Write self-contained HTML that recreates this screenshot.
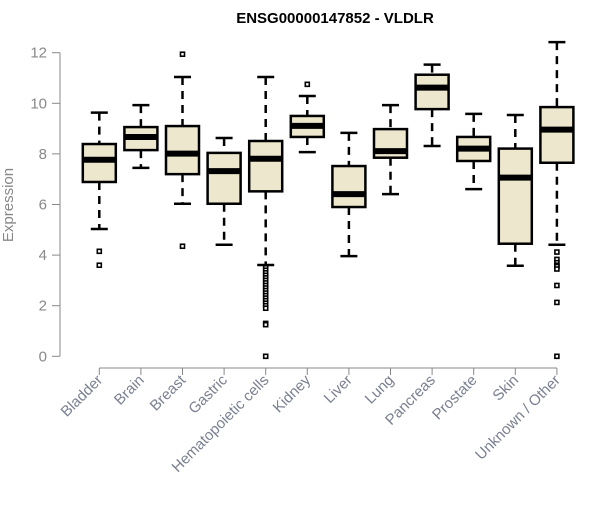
<!DOCTYPE html>
<html><head><meta charset="utf-8"><style>
body{margin:0;background:#fff;}
svg text{font-family:"Liberation Sans",Arial,sans-serif;}
</style></head><body>
<svg id="chart" width="600" height="500" xmlns="http://www.w3.org/2000/svg">
<text x="335" y="23" text-anchor="middle" font-size="15" font-weight="bold">ENSG00000147852 - VLDLR</text>
<text transform="translate(13,205) rotate(-90)" text-anchor="middle" font-size="15" fill="#888">Expression</text>
<g id="axes"></g><g id="boxes"></g>
</svg>
<script>
const categories=["Bladder","Brain","Breast","Gastric","Hematopoietic cells","Kidney","Liver","Lung","Pancreas","Prostate","Skin","Unknown / Other"];
const whiskerHigh=[9.63,9.93,11.04,8.63,11.04,10.29,8.83,9.93,11.53,9.58,9.54,12.42];
const q3=[8.39,9.06,9.1,8.04,8.51,9.5,7.52,8.98,11.13,8.67,8.21,9.85];
const medians=[7.77,8.67,8.01,7.32,7.81,9.11,6.41,8.11,10.62,8.21,7.06,8.96];
const q1=[6.89,8.15,7.2,6.03,6.52,8.67,5.9,7.85,9.77,7.72,4.45,7.65];
const whiskerLow=[5.03,7.45,6.03,4.41,3.61,8.07,3.96,6.41,8.31,6.61,3.58,4.41];
const outliers=[[4.15,3.6],[],[11.94,4.35],[],[3.5,3.4,3.3,3.2,3.1,3.0,2.9,2.8,2.7,2.6,2.5,2.4,2.3,2.2,2.1,2.0,1.9,1.3,1.25,0],[10.75],[],[],[],[],[],[4.12,3.83,3.7,3.6,3.55,3.45,2.8,2.13,0]];
const yTicks=[0,2,4,6,8,10,12];
const NS="http://www.w3.org/2000/svg";
const y=v=>356.3-v*25.3;
const x=i=>99.3+i*41.6;
function mk(tag,attrs,parent){const e=document.createElementNS(NS,tag);for(const k in attrs)e.setAttribute(k,attrs[k]);parent.appendChild(e);return e;}
const ax=document.getElementById('axes'),bx=document.getElementById('boxes');
let l=mk('line',{x1:60,x2:60,y1:y(12),y2:y(0),stroke:'#888'},ax);


yTicks.forEach(t=>{
 const tk=mk('line',{x1:52,x2:60,y1:y(t),y2:y(t),stroke:'#888'},ax);
 
 
 const tx=mk('text',{x:47,y:y(t)+5,'text-anchor':'end','font-size':15,fill:'#888'},ax);
 tx.textContent=t;
 
 
});
l=mk('line',{x1:x(0),x2:x(categories.length-1),y1:368,y2:368,stroke:'#888'},ax);


categories.forEach((c,i)=>{
 const cx=x(i);
 const tk=mk('line',{x1:cx,x2:cx,y1:368,y2:375,stroke:'#888'},ax);
 
 
 const tx=mk('text',{transform:`translate(${cx+4},${381}) rotate(-45)`,'text-anchor':'end','font-size':15,fill:'#7a8090'},ax);
 tx.textContent=c;
 
 
 const g=mk('g',{},bx);
 
 
 const hw=16.5,cw=8.5;
 mk('line',{x1:cx,x2:cx,y1:y(whiskerHigh[i]),y2:y(q3[i]),stroke:'#000','stroke-width':2.5,'stroke-dasharray':'8,6'},g);
 mk('line',{x1:cx,x2:cx,y1:y(q1[i]),y2:y(whiskerLow[i]),stroke:'#000','stroke-width':2.5,'stroke-dasharray':'8,6'},g);
 mk('line',{x1:cx-cw,x2:cx+cw,y1:y(whiskerHigh[i]),y2:y(whiskerHigh[i]),stroke:'#000','stroke-width':2.5},g);
 mk('line',{x1:cx-cw,x2:cx+cw,y1:y(whiskerLow[i]),y2:y(whiskerLow[i]),stroke:'#000','stroke-width':2.5},g);
 mk('rect',{x:cx-hw,y:y(q3[i]),width:2*hw,height:y(q1[i])-y(q3[i]),fill:'#ede8cd',stroke:'#000','stroke-width':2.5},g);
 mk('line',{x1:cx-hw,x2:cx+hw,y1:y(medians[i]),y2:y(medians[i]),stroke:'#000','stroke-width':6},g);
 outliers[i].forEach(o=>{
  const p=mk('rect',{x:cx-2,y:y(o)-2,width:4,height:4,fill:'#fff',stroke:'#000','stroke-width':1.6},g);
  
  
 });
});
</script>
</body></html>
